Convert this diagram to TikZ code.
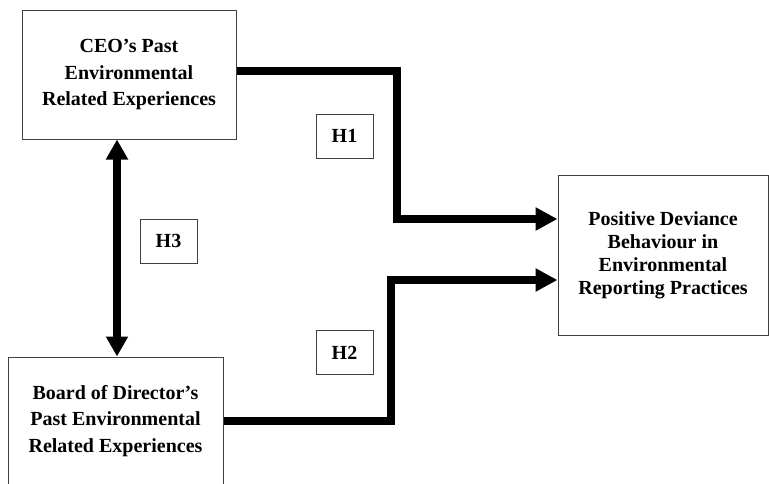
\documentclass[tikz,border=0pt]{standalone}
\usepackage{fontspec}
\setmainfont{Liberation Serif}
\usetikzlibrary{arrows.meta, positioning}
\tikzset{
    box/.style={draw=black!75, line width=1pt, align=center, inner sep=0pt,
        font=\fontsize{20}{26.5}\selectfont\bfseries},
    hbox/.style={box, minimum width=57pt, minimum height=44pt},
    flow/.style={line width=8pt, -{Triangle[length=22pt,width=22pt]}},
    dflow/.style={line width=8pt,
        {Triangle[length=20pt,width=21pt]}-{Triangle[length=20pt,width=21pt]}}
}

\begin{document}
\begin{tikzpicture}[x=1pt, y=-1pt]
    \useasboundingbox (0,0) rectangle (769,483);
    \node[box, minimum width=214pt, minimum height=129pt] (ceo) at (129,74.5)
        {CEO’s Past\\Environmental\\Related Experiences};
    \node[box, minimum width=215pt, minimum height=128pt] (board) at (115.5,421)
        {Board of Director’s\\Past Environmental\\Related Experiences};
    \node[box, minimum width=210pt, minimum height=160pt,
        font=\fontsize{20}{23}\selectfont\bfseries] (pd) at (663,255)
        {Positive Deviance\\Behaviour in\\Environmental\\Reporting Practices};
    \node[hbox] (h1) at (344.5,136) {H1};
    \node[hbox] (h3) at (168.5,241) {H3};
    \node[hbox] (h2) at (344.5,352.5) {H2};
    \draw[flow] ([yshift=3.5pt]ceo.east) -| ([xshift=-161pt,yshift=36pt]pd.west)
        -- ([yshift=36pt]pd.west);
    \draw[flow] (board.east) -| ([xshift=-167pt,yshift=-25pt]pd.west)
        -- ([yshift=-25pt]pd.west);
    \draw[dflow] ([xshift=-12pt]ceo.south) -- ([xshift=-12pt]ceo.south |- board.north);
\end{tikzpicture}
\end{document}
